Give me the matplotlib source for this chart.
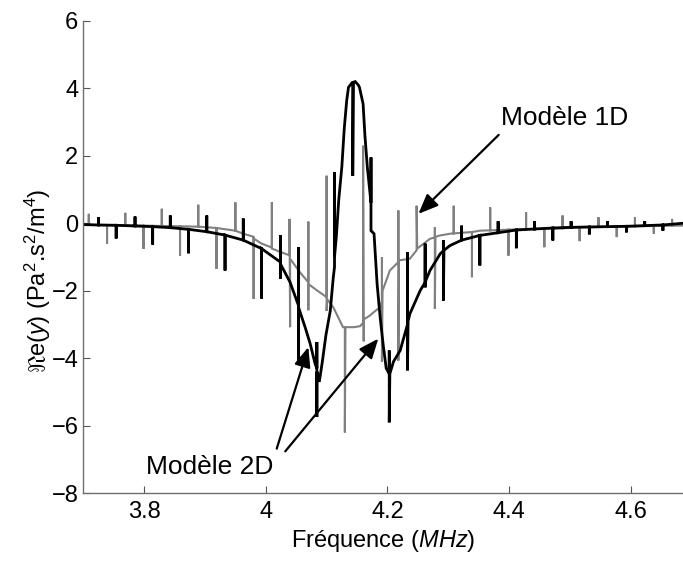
import numpy as np
import matplotlib
matplotlib.use('Agg')
import matplotlib.pyplot as plt

plt.rcParams['font.family'] = ['Liberation Sans', 'DejaVu Sans']
plt.rcParams['mathtext.fontset'] = 'custom'
plt.rcParams['mathtext.rm'] = 'Liberation Sans'
plt.rcParams['mathtext.it'] = 'Liberation Sans:italic'

# Modele 2D (black): (frequency MHz, Re(y)), spikes drawn as vertical runs
black_pts = [
    (3.701, -0.04),
    (3.725, -0.05), (3.725, 0.18), (3.725, -0.05),
    (3.754, -0.06), (3.754, -0.45), (3.754, -0.06),
    (3.785, -0.08), (3.785, 0.20), (3.785, -0.08),
    (3.814, -0.10), (3.814, -0.63), (3.814, -0.10),
    (3.843, -0.13), (3.843, 0.23), (3.843, -0.13),
    (3.873, -0.18), (3.873, -0.89), (3.873, -0.18),
    (3.903, -0.25), (3.903, 0.23), (3.903, -0.25),
    (3.933, -0.35), (3.933, -1.40), (3.933, -0.35),
    (3.963, -0.50), (3.963, 0.14), (3.963, -0.50),
    (3.993, -0.75), (3.993, -2.23), (3.993, -0.75),
    (4.024, -1.15), (4.024, -0.36), (4.024, -1.64), (4.024, -1.20),
    (4.040, -1.75),
    (4.054, -2.45), (4.054, -0.71), (4.054, -4.07), (4.054, -2.50),
    (4.065, -3.10), (4.073, -3.57), (4.081, -4.16),
    (4.084, -4.30), (4.084, -3.52), (4.084, -5.74), (4.084, -4.40),
    (4.088, -4.70), (4.093, -4.10), (4.099, -3.30), (4.106, -2.60),
    (4.111, -1.60),
    (4.113, -1.30), (4.113, 1.51), (4.113, -1.00),
    (4.116, -0.40), (4.120, 0.70), (4.125, 1.66), (4.129, 2.80),
    (4.133, 3.63), (4.136, 4.03), (4.142, 4.17),
    (4.143, 4.17), (4.143, 1.41), (4.144, 4.18),
    (4.147, 4.20), (4.152, 4.10), (4.154, 4.03), (4.160, 3.54),
    (4.163, 2.60), (4.167, 1.66),
    (4.173, 0.60), (4.173, 1.95), (4.173, -0.22),
    (4.178, -0.31), (4.183, -1.79), (4.188, -2.78), (4.193, -3.60),
    (4.198, -4.30),
    (4.203, -4.46), (4.203, -3.77), (4.203, -5.90), (4.204, -4.46),
    (4.210, -4.10), (4.221, -3.77),
    (4.233, -3.00), (4.233, -0.86), (4.233, -4.36), (4.234, -2.90),
    (4.237, -2.68), (4.254, -1.99),
    (4.262, -1.75), (4.262, -0.60), (4.262, -1.90), (4.263, -1.70),
    (4.270, -1.40), (4.287, -0.90),
    (4.292, -0.82), (4.292, -0.50), (4.292, -2.29), (4.293, -0.80),
    (4.303, -0.66),
    (4.322, -0.50), (4.322, -0.07), (4.322, -0.50),
    (4.352, -0.36), (4.352, -1.25), (4.352, -0.36),
    (4.382, -0.28), (4.382, 0.06), (4.382, -0.28),
    (4.412, -0.20), (4.412, -0.74), (4.412, -0.20),
    (4.442, -0.17), (4.442, 0.06), (4.442, -0.17),
    (4.472, -0.14), (4.472, -0.51), (4.472, -0.14),
    (4.502, -0.12), (4.502, 0.06), (4.502, -0.12),
    (4.532, -0.11), (4.532, -0.33), (4.532, -0.11),
    (4.562, -0.10), (4.562, 0.06), (4.562, -0.10),
    (4.593, -0.09), (4.593, -0.27), (4.593, -0.09),
    (4.623, -0.07), (4.623, 0.06), (4.623, -0.07),
    (4.653, -0.05), (4.653, -0.22), (4.653, -0.05),
    (4.686, 0.00),
]

# Modele 1D (gray)
gray_pts = [
    (3.701, -0.05),
    (3.709, -0.05), (3.709, 0.28), (3.709, -0.05),
    (3.739, -0.06), (3.739, -0.61), (3.739, -0.06),
    (3.769, -0.06), (3.769, 0.31), (3.769, -0.06),
    (3.799, -0.07), (3.799, -0.76), (3.799, -0.07),
    (3.829, -0.08), (3.829, 0.43), (3.829, -0.08),
    (3.859, -0.09), (3.859, -0.96), (3.859, -0.09),
    (3.889, -0.10), (3.889, 0.55), (3.889, -0.10),
    (3.919, -0.14), (3.919, -1.35), (3.919, -0.14),
    (3.950, -0.22), (3.950, 0.62), (3.950, -0.22),
    (3.963, -0.31),
    (3.980, -0.40), (3.980, -2.24), (3.980, -0.45),
    (3.993, -0.60),
    (4.010, -0.72), (4.010, 0.62), (4.010, -0.75),
    (4.024, -0.85),
    (4.039, -0.95), (4.039, 0.13), (4.040, -3.08), (4.040, -1.05),
    (4.056, -1.45),
    (4.070, -1.75), (4.070, 0.05), (4.070, -2.58), (4.070, -1.80),
    (4.085, -2.00),
    (4.100, -2.19), (4.100, 1.41), (4.100, -2.60), (4.101, -2.25),
    (4.111, -2.49), (4.127, -3.08),
    (4.130, -3.08), (4.130, -6.20), (4.131, -3.08),
    (4.145, -3.08), (4.155, -3.05),
    (4.160, -2.95), (4.160, 2.30), (4.161, -3.50), (4.161, -2.85),
    (4.170, -2.75), (4.180, -2.60), (4.188, -2.49),
    (4.191, -2.30), (4.191, -1.00), (4.191, -4.10), (4.192, -2.00),
    (4.204, -1.40),
    (4.218, -1.15), (4.218, 0.38), (4.218, -4.07), (4.219, -1.10),
    (4.237, -1.05),
    (4.248, -0.80), (4.248, 0.52), (4.249, -0.75),
    (4.270, -0.46),
    (4.278, -0.42), (4.278, -0.12), (4.278, -2.54), (4.279, -0.40),
    (4.287, -0.36), (4.303, -0.31),
    (4.309, -0.30), (4.309, 0.52), (4.309, -0.30),
    (4.339, -0.26), (4.339, -1.60), (4.339, -0.26),
    (4.352, -0.22),
    (4.369, -0.21), (4.369, 0.47), (4.369, -0.21),
    (4.399, -0.19), (4.399, -0.96), (4.399, -0.19),
    (4.428, -0.17), (4.428, 0.33), (4.428, -0.17),
    (4.458, -0.16), (4.458, -0.71), (4.458, -0.16),
    (4.488, -0.15), (4.488, 0.23), (4.488, -0.15),
    (4.516, -0.12), (4.516, -0.53), (4.516, -0.12),
    (4.547, -0.11), (4.547, 0.18), (4.547, -0.11),
    (4.577, -0.10), (4.577, -0.41), (4.577, -0.10),
    (4.607, -0.09), (4.607, 0.18), (4.607, -0.09),
    (4.638, -0.08), (4.638, -0.31), (4.638, -0.08),
    (4.668, -0.07), (4.668, 0.13), (4.668, -0.07),
    (4.686, -0.07),
]

xticks = [3.8, 4.0, 4.2, 4.4, 4.6]
xticklabels = ['3.8', '4', '4.2', '4.4', '4.6']
yticks = [-8, -6, -4, -2, 0, 2, 4, 6]

# annotations: text position, arrow tails and tips (data coords)
label_1d = ('Modèle 1D', 4.491, 3.13)
arrows_1d = [((4.383, 2.62), (4.251, 0.28))]
label_2d = ('Modèle 2D', 3.908, -7.23)
arrows_2d = [((4.018, -6.68), (4.070, -3.67)),
             ((4.032, -6.76), (4.185, -3.42))]

black_f, black_v = np.array(black_pts).T
gray_f, gray_v = np.array(gray_pts).T

fig = plt.figure(figsize=(6.83, 5.63), dpi=100)
ax = fig.add_axes([0.122, 0.124, 0.878, 0.839])

ax.plot(gray_f, gray_v, color='#808080', lw=1.5, solid_joinstyle='miter')
ax.plot(black_f, black_v, color='k', lw=2.0, solid_joinstyle='miter')

ax.set_xlim(3.7, 4.686)
ax.set_ylim(-8, 6)
ax.set_xticks(xticks)
ax.set_xticklabels(xticklabels)
ax.set_yticks(yticks)
ax.tick_params(direction='in', length=5, width=0.8, color='#555555',
               labelsize=17, pad=3.5)
ax.tick_params(axis='x', pad=5.5)
for s in ['top', 'right']:
    ax.spines[s].set_visible(False)
for s in ['left', 'bottom']:
    ax.spines[s].set_color('#707070')
    ax.spines[s].set_linewidth(1.0)

ax.set_xlabel('Fréquence ($MHz$)', fontsize=17, labelpad=4)
ax.set_ylabel(r'$\Re$e($y$) (Pa$^2$.s$^2$/m$^4$)', fontsize=17)
ax.yaxis.set_label_coords(-0.05, 0.45)

arrow_kw = dict(arrowstyle='-|>,head_length=0.6,head_width=0.25',
                color='k', lw=1.6, mutation_scale=20, shrinkA=0, shrinkB=0)
for text, x, y in [label_1d, label_2d]:
    ax.text(x, y, text, fontsize=19, ha='center', va='center')
for tail, tip in arrows_1d + arrows_2d:
    ax.annotate('', xy=tip, xytext=tail, arrowprops=arrow_kw)

fig.savefig('out.png', dpi=100)
